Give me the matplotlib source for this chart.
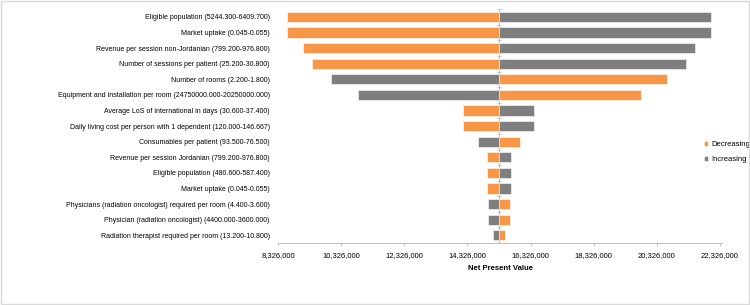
import numpy as np
import matplotlib.pyplot as plt
from matplotlib.patches import Rectangle

plt.rcParams['font.family'] = ['Liberation Sans', 'DejaVu Sans']

labels = [
    "Eligible population (5244.300-6409.700)",
    "Market uptake (0.045-0.055)",
    "Revenue per session non-Jordanian (799.200-976.800)",
    "Number of sessions per patient (25.200-30.800)",
    "Number of rooms (2.200-1.800)",
    "Equipment and installation per room (24750000.000-20250000.000)",
    "Average LoS of international in days (30.600-37.400)",
    "Daily living cost per person with 1 dependent (120.000-146.667)",
    "Consumables per patient (93.500-76.500)",
    "Revenue per session Jordanian (799.200-976.800)",
    "Eligible population (480.600-587.400)",
    "Market uptake (0.045-0.055)",
    "Physicians (radiation oncologist) required per room (4.400-3.600)",
    "Physician (radiation oncologist) (4400.000-3600.000)",
    "Radiation therapist required per room (13.200-10.800)",
]

# npv when the input goes down / up
base_npv = 15340000
dec_npv = [8610000, 8610000, 9120000, 9410000, 20640000, 19820000, 14200000,
           14200000, 15980000, 14930000, 14930000, 14930000, 15660000, 15660000, 15530000]
inc_npv = [22040000, 22040000, 21530000, 21250000, 10010000, 10870000, 16450000,
           16450000, 14670000, 15720000, 15720000, 15720000, 14990000, 14990000, 15150000]

xticks = np.arange(8326000, 22326001, 2000000)

orange = '#F79646'
grey = '#7F7F7F'

fig = plt.figure(figsize=(7.5, 3.05), dpi=100)
ax = fig.add_axes([0.371, 0.203, 0.592, 0.767])

y = np.arange(len(labels))
dec = np.array(dec_npv)
inc = np.array(inc_npv)
ax.barh(y, dec - base_npv, left=base_npv, height=0.66, color=orange,
        edgecolor='white', linewidth=0.4, label='Decreasing')
ax.barh(y, inc - base_npv, left=base_npv, height=0.66, color=grey,
        edgecolor='white', linewidth=0.4, label='Increasing')

ax.set_ylim(len(labels) - 0.5, -0.5)
ax.set_xlim(xticks[0], xticks[-1] + 80000)
ax.set_yticks(y)
ax.set_yticklabels(labels, fontsize=5.0)
ax.tick_params(axis='y', length=0, pad=6)
ax.set_xticks(xticks)
ax.set_xticklabels([f'{v:,}' for v in xticks], fontsize=5.5)
ax.tick_params(axis='x', length=2.5, width=0.6, color='#BFBFBF', pad=4)
ax.set_xlabel('Net Present Value', fontsize=5.5, fontweight='bold', labelpad=4)

for s in ['top', 'right', 'left']:
    ax.spines[s].set_visible(False)
ax.spines['bottom'].set_color('#BFBFBF')
ax.spines['bottom'].set_linewidth(0.7)

# vertical axis through the base case
ax.axvline(base_npv, color='#BFBFBF', lw=0.7, zorder=0.5)
bounds = np.arange(len(labels) + 1) - 0.5
ax.plot(np.full(len(bounds), base_npv), bounds, ls='none', marker='_',
        ms=3, mew=0.6, color='#BFBFBF', zorder=0.5)

ax.legend(loc='center left', bbox_to_anchor=(0.958, 0.39), frameon=False,
          fontsize=5.5, handlelength=0.6, handleheight=0.6, handletextpad=0.4,
          labelspacing=1.0, borderpad=0, borderaxespad=0)

fig.patches.append(Rectangle((0.001, 0.002), 0.997, 0.995, transform=fig.transFigure,
                             fill=False, edgecolor='#D9D9D9', lw=1))

fig.savefig('out.png', dpi=100)
